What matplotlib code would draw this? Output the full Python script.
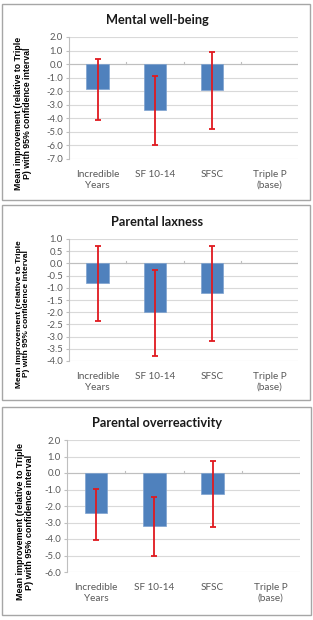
import matplotlib
matplotlib.use("Agg")
import matplotlib.pyplot as plt
from matplotlib.patches import Rectangle

W, H = 313, 620

categories = ["Incredible\nYears", "SF 10-14", "SFSC", "Triple P\n(base)"]

# panel titles
titles = ["Mental well-being", "Parental laxness", "Parental overreactivity"]

# mean improvement relative to Triple P (base has no bar)
means = [
    [-1.85, -3.35, -1.9],
    [-0.8, -2.0, -1.2],
    [-2.45, -3.2, -1.25],
]
ci_low = [
    [-4.15, -6.0, -4.8],
    [-2.35, -3.78, -3.2],
    [-4.05, -5.0, -3.25],
]
ci_high = [
    [0.35, -0.85, 0.9],
    [0.72, -0.25, 0.73],
    [-0.95, -1.45, 0.75],
]

# y axis ranges / ticks
y_lims = [(-7.0, 2.0), (-4.0, 1.0), (-6.0, 2.0)]
y_steps = [1.0, 0.5, 1.0]

# layout in pixels: box (x0, y0, x1, y1), axes (left, top, right, bottom), title y, ylabel (x, y)
boxes = [(2, 4, 310, 200), (2, 205, 310, 400), (2, 407, 311, 615)]
axes_px = [(69, 37, 298, 159), (69, 239, 298, 361), (67, 440, 300, 572)]
title_y = [20, 222, 423]
ylab_pos = [(23, 113), (23, 314), (25, 522)]
ylab_size = [6.3, 6.0, 6.5]

bar_color = "#4f81bd"
err_color = "#e0191f"
grid_color = "#d9d9d9"
tick_color = "#595959"

fig = plt.figure(figsize=(W / 100, H / 100), dpi=100)

for i in range(3):
    x0, y0, x1, y1 = boxes[i]
    fig.patches.append(Rectangle((x0 / W, 1 - y1 / H), (x1 - x0) / W, (y1 - y0) / H,
                                 transform=fig.transFigure, fill=False,
                                 edgecolor="#a6a6a6", linewidth=1.0))

    l, t, r, b = axes_px[i]
    ax = fig.add_axes([l / W, 1 - b / H, (r - l) / W, (b - t) / H])

    xs = list(range(len(categories)))
    vals = means[i]
    ax.bar(xs[:3], vals, width=0.39, color=bar_color, edgecolor="#7da1cf",
           linewidth=0.5, zorder=3)
    lower = [v - lo for v, lo in zip(vals, ci_low[i])]
    upper = [hi - v for v, hi in zip(vals, ci_high[i])]
    ax.errorbar(xs[:3], vals, yerr=[lower, upper], fmt="none", ecolor=err_color,
                elinewidth=1.3, capsize=2, capthick=1.3, zorder=4)

    lo_y, hi_y = y_lims[i]
    ax.set_ylim(lo_y, hi_y)
    ax.set_xlim(-0.5, 3.5)
    n = int(round((hi_y - lo_y) / y_steps[i]))
    ticks = [lo_y + k * y_steps[i] for k in range(n + 1)]
    ax.set_yticks(ticks)
    ax.set_yticklabels([f"{v:.1f}" for v in ticks])
    ax.yaxis.grid(True, color=grid_color, linewidth=0.8, zorder=0)
    ax.set_axisbelow(True)

    for s in ["top", "right", "bottom"]:
        ax.spines[s].set_visible(False)
    ax.spines["left"].set_color("#bfbfbf")
    ax.spines["left"].set_linewidth(0.8)

    # category axis crosses at zero
    ax.axhline(0, color="#bfbfbf", linewidth=0.8, zorder=2)
    for xb in [0.5, 1.5, 2.5, 3.5]:
        ax.plot([xb, xb], [0, (hi_y - lo_y) * 0.018], color="#bfbfbf",
                linewidth=0.8, zorder=2)

    ax.set_xticks(xs)
    ax.set_xticklabels(categories, fontsize=7.2, color=tick_color, family="Lato",
                       linespacing=1.25)
    ax.tick_params(axis="x", length=0, pad=8)
    ax.tick_params(axis="y", length=2.5, color="#bfbfbf", labelsize=6.8,
                   labelcolor=tick_color, pad=2)
    for lab in ax.get_yticklabels():
        lab.set_family("Lato")

    fig.text(((x0 + x1) / 2 + 1) / W, 1 - title_y[i] / H, titles[i],
             ha="center", va="center", fontsize=9.2, fontweight="bold",
             family="Lato", color="#1a1a1a")

    fig.text(ylab_pos[i][0] / W, 1 - ylab_pos[i][1] / H,
             "Mean improvement (relative to Triple\nP) with 95% confidence interval",
             rotation=90, ha="center", va="center", fontsize=ylab_size[i],
             fontweight="bold", family="Liberation Sans", linespacing=1.0,
             multialignment="center")

fig.savefig("out.png", dpi=100)
